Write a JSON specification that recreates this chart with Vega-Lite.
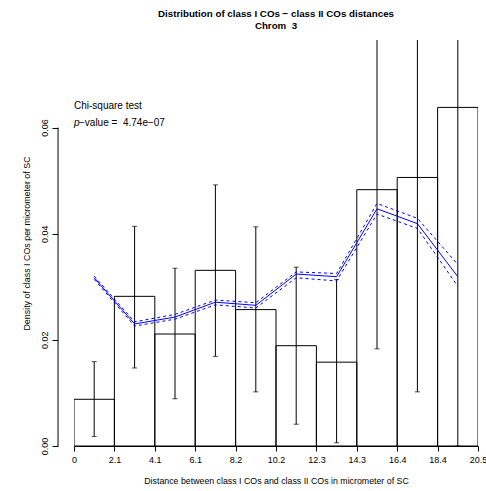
{
  "$schema": "https://vega.github.io/schema/vega-lite/v6.json",
  "width": 404,
  "height": 406,
  "autosize": {"type": "none"},
  "padding": {"left": 74, "top": 40, "right": 8, "bottom": 45},
  "background": "white",
  "config": {"view": {"stroke": null}, "font": "Liberation Sans"},
  "title": {
    "text": ["Distribution of class I COs − class II COs distances", "Chrom \u00a03"],
    "fontSize": 9.75, "fontWeight": "bold", "font": "Liberation Sans", "anchor": "middle",
    "lineHeight": 12, "offset": 9, "color": "black"
  },
  "data": {"values": [
    {"bin": 1, "start": 0, "end": 2.05, "mid": 1.025, "density": 0.0088, "lo": 0.0018, "hi": 0.0159, "fit": 0.0317, "fit_lo": 0.0314, "fit_hi": 0.0320},
    {"bin": 2, "start": 2.05, "end": 4.1, "mid": 3.075, "density": 0.0282, "lo": 0.0147, "hi": 0.0414, "fit": 0.0230, "fit_lo": 0.0226, "fit_hi": 0.0234},
    {"bin": 3, "start": 4.1, "end": 6.15, "mid": 5.125, "density": 0.0211, "lo": 0.0089, "hi": 0.0335, "fit": 0.0243, "fit_lo": 0.0239, "fit_hi": 0.0248},
    {"bin": 4, "start": 6.15, "end": 8.2, "mid": 7.175, "density": 0.0331, "lo": 0.0169, "hi": 0.0492, "fit": 0.0271, "fit_lo": 0.0266, "fit_hi": 0.0275},
    {"bin": 5, "start": 8.2, "end": 10.25, "mid": 9.225, "density": 0.0257, "lo": 0.0102, "hi": 0.0413, "fit": 0.0265, "fit_lo": 0.0260, "fit_hi": 0.0270},
    {"bin": 6, "start": 10.25, "end": 12.3, "mid": 11.275, "density": 0.0189, "lo": 0.0041, "hi": 0.0337, "fit": 0.0324, "fit_lo": 0.0317, "fit_hi": 0.0328},
    {"bin": 7, "start": 12.3, "end": 14.35, "mid": 13.325, "density": 0.0158, "lo": 0.0006, "hi": 0.0314, "fit": 0.0319, "fit_lo": 0.0311, "fit_hi": 0.0325},
    {"bin": 8, "start": 14.35, "end": 16.4, "mid": 15.375, "density": 0.0483, "lo": 0.0183, "hi": 0.09, "fit": 0.0447, "fit_lo": 0.0437, "fit_hi": 0.0457},
    {"bin": 9, "start": 16.4, "end": 18.45, "mid": 17.425, "density": 0.0506, "lo": 0.0102, "hi": 0.09, "fit": 0.0419, "fit_lo": 0.0410, "fit_hi": 0.0429},
    {"bin": 10, "start": 18.45, "end": 20.5, "mid": 19.475, "density": 0.0638, "lo": 0.0, "hi": 0.09, "fit": 0.0319, "fit_lo": 0.0301, "fit_hi": 0.0342}
  ]},
  "layer": [
    {
      "mark": {"type": "rect", "fillOpacity": 0, "fill": "white", "stroke": "black", "strokeWidth": 1, "clip": true},
      "encoding": {
        "x": {
          "field": "start", "type": "quantitative",
          "scale": {"domain": [0, 20.5], "nice": false, "zero": false},
          "axis": {
            "title": "Distance between class I COs and class II COs in micrometer of SC",
            "values": [0, 2.05, 4.1, 6.15, 8.2, 10.25, 12.3, 14.35, 16.4, 18.45, 20.5],
            "labelExpr": "['0','2.1','4.1','6.1','8.2','10.2','12.3','14.3','16.4','18.4','20.5'][round(datum.value/2.05)]",
            "grid": false, "domain": true, "domainColor": "black", "tickColor": "black",
            "tickSize": 5, "labelPadding": 4, "labelFontSize": 9, "labelColor": "black",
            "labelFlush": false, "labelOverlap": false,
            "titleFontSize": 8.8, "titleFontWeight": "normal", "titleColor": "black", "titlePadding": 12
          }
        },
        "x2": {"field": "end"},
        "y": {
          "field": "density", "type": "quantitative",
          "scale": {"domain": [0, 0.0765], "nice": false},
          "axis": {
            "title": "Density of class I COs per micrometer of SC",
            "values": [0, 0.02, 0.04, 0.06], "format": ".2f",
            "grid": false, "domain": false, "offset": 16, "tickSize": 6, "tickColor": "black",
            "labelAngle": -90, "labelAlign": "center", "labelBaseline": "bottom", "labelPadding": 3,
            "labelFontSize": 9, "labelColor": "black", "labelFlush": false, "labelOverlap": false,
            "titleFontSize": 8.9, "titleFontWeight": "normal", "titleColor": "black", "titlePadding": 9
          }
        },
        "y2": {"datum": 0}
      }
    },
    {
      "mark": {"type": "rule", "color": "black", "strokeWidth": 1, "clip": true},
      "encoding": {
        "x": {"field": "mid", "type": "quantitative"},
        "y": {"field": "lo", "type": "quantitative"},
        "y2": {"field": "hi"}
      }
    },
    {
      "mark": {"type": "tick", "orient": "horizontal", "size": 5, "thickness": 1, "color": "black", "clip": true},
      "encoding": {
        "x": {"field": "mid", "type": "quantitative"},
        "y": {"field": "lo", "type": "quantitative"}
      }
    },
    {
      "mark": {"type": "tick", "orient": "horizontal", "size": 5, "thickness": 1, "color": "black", "clip": true},
      "encoding": {
        "x": {"field": "mid", "type": "quantitative"},
        "y": {"field": "hi", "type": "quantitative"}
      }
    },
    {
      "mark": {"type": "line", "color": "#0000ff", "strokeWidth": 1},
      "encoding": {
        "x": {"field": "mid", "type": "quantitative"},
        "y": {"field": "fit", "type": "quantitative"}
      }
    },
    {
      "mark": {"type": "line", "color": "#0000ff", "strokeWidth": 1, "strokeDash": [3, 3]},
      "encoding": {
        "x": {"field": "mid", "type": "quantitative"},
        "y": {"field": "fit_lo", "type": "quantitative"}
      }
    },
    {
      "mark": {"type": "line", "color": "#0000ff", "strokeWidth": 1, "strokeDash": [3, 3]},
      "encoding": {
        "x": {"field": "mid", "type": "quantitative"},
        "y": {"field": "fit_hi", "type": "quantitative"}
      }
    },
    {
      "data": {"values": [{"label": "Chi-square test"}]},
      "mark": {"type": "text", "align": "left", "baseline": "middle", "fontSize": 10, "color": "black"},
      "encoding": {
        "x": {"datum": 0},
        "y": {"datum": 0.0641},
        "text": {"field": "label"}
      }
    },
    {
      "data": {"values": [{"label": "p"}]},
      "mark": {"type": "text", "align": "left", "baseline": "middle", "fontSize": 10, "fontStyle": "italic", "color": "black"},
      "encoding": {
        "x": {"datum": 0},
        "y": {"datum": 0.0609},
        "text": {"field": "label"}
      }
    },
    {
      "data": {"values": [{"label": "−value = \u00a04.74e−07"}]},
      "mark": {"type": "text", "align": "left", "baseline": "middle", "fontSize": 10, "dx": 5, "color": "black"},
      "encoding": {
        "x": {"datum": 0},
        "y": {"datum": 0.0609},
        "text": {"field": "label"}
      }
    },
    {
      "data": {"values": [{"from": 0, "to": 0.06}]},
      "mark": {"type": "rule", "color": "black", "strokeWidth": 1, "clip": false},
      "encoding": {
        "x": {"datum": -0.81},
        "y": {"field": "from", "type": "quantitative"},
        "y2": {"field": "to"}
      }
    }
  ]
}
